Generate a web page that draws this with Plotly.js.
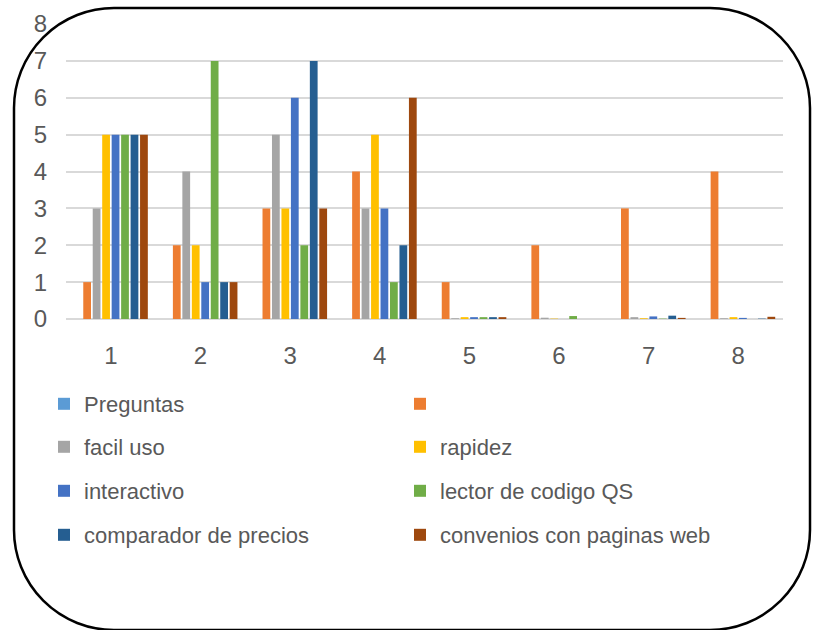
<!DOCTYPE html>
<html>
<head>
<meta charset="utf-8">
<script src="https://cdn.plot.ly/plotly-3.0.1.min.js"></script>
<style>
  html, body { margin: 0; padding: 0; background: #fff; }
  #wrap { position: relative; width: 813px; height: 630px; overflow: hidden; }
  #chart { width: 813px; height: 630px; }
  #frame { position: absolute; left: 0; top: 0; pointer-events: none; }
</style>
</head>
<body>
<div id="wrap">
  <div id="chart"></div>
  <svg id="frame" width="813" height="630">
    <rect x="14" y="8" width="796" height="622" rx="100" ry="100" fill="none" stroke="#000" stroke-width="2.5"></rect>
  </svg>
</div>
<script>
const categories = [1, 2, 3, 4, 5, 6, 7, 8];
const tickLabels = ['1', '2', '3', '4', '5', '6', '7', '8'];

const seriesNames = ['Preguntas', ' ', 'facil uso', 'rapidez', 'interactivo',
  'lector de codigo QS', 'comparador de precios', 'convenios con paginas web'];

const preguntas  = [0, 0, 0, 0, 0, 0, 0, 0];
const sinNombre  = [1, 2, 3, 4, 1, 2, 3, 4];
const facilUso   = [3, 4, 5, 3, 0.02, 0.035, 0.05, 0.02];
const rapidez    = [5, 2, 3, 5, 0.05, 0.01, 0.02, 0.05];
const interactivo = [5, 1, 6, 3, 0.05, 0, 0.07, 0.03];
const lectorQS   = [5, 7, 2, 1, 0.05, 0.08, 0.01, 0];
const comparador = [5, 1, 7, 2, 0.05, 0, 0.09, 0.01];
const convenios  = [5, 1, 3, 6, 0.05, 0, 0.03, 0.06];

const seriesValues = [preguntas, sinNombre, facilUso, rapidez, interactivo, lectorQS, comparador, convenios];
const colors = ['#5B9BD5', '#ED7D31', '#A5A5A5', '#FFC000', '#4472C4', '#70AD47', '#255E91', '#9E480E'];

const FONT = '"Liberation Sans", Arial, sans-serif';
const TXT = '#595959';

const plotTop = 24, plotBottom = 319, plotLeft = 66, plotRight = 783;
const H = 630, W = 813;
const plotH = plotBottom - plotTop;
const rowCenters = [404, 447, 491, 535];
const legendNames = ['legend', 'legend2', 'legend3', 'legend4'];

const traces = seriesNames.map((name, i) => ({
  type: 'bar',
  name: name,
  x: categories,
  y: seriesValues[i],
  marker: { color: colors[i] },
  legend: legendNames[Math.floor(i / 2)],
  hoverinfo: 'x+y+name'
}));

function legendAt(ypx) {
  return {
    orientation: 'h',
    x: (44 - plotLeft) / (plotRight - plotLeft),
    xanchor: 'left',
    y: (plotBottom - ypx) / plotH,
    yanchor: 'middle',
    entrywidth: 311,
    entrywidthmode: 'pixels',
    font: { family: FONT, size: 22, color: TXT },
    bgcolor: 'rgba(0,0,0,0)',
    traceorder: 'normal'
  };
}

const layout = {
  width: W,
  height: H,
  margin: { l: plotLeft, r: W - plotRight, t: plotTop, b: H - plotBottom, pad: 0 },
  paper_bgcolor: '#ffffff',
  plot_bgcolor: '#ffffff',
  barmode: 'group',
  bargap: 0.155,
  bargroupgap: 0.18,
  font: { family: FONT, color: TXT },
  xaxis: {
    range: [0.5, 8.5],
    tickvals: categories,
    ticktext: tickLabels,
    showgrid: false,
    zeroline: false,
    showline: false,
    ticks: '',
    ticklabelstandoff: 20,
    tickfont: { family: FONT, size: 24, color: TXT },
    fixedrange: true
  },
  yaxis: {
    range: [0, 8],
    dtick: 1,
    tick0: 0,
    showgrid: true,
    gridcolor: '#D9D9D9',
    gridwidth: 2,
    zeroline: true,
    zerolinecolor: '#D9D9D9',
    zerolinewidth: 2,
    showline: false,
    ticks: '',
    ticklabelstandoff: 18,
    tickfont: { family: FONT, size: 24, color: TXT },
    fixedrange: true
  },
  showlegend: true
};
legendNames.forEach((ln, r) => { layout[ln] = legendAt(rowCenters[r]); });

Plotly.newPlot('chart', traces, layout, { displayModeBar: false, staticPlot: true });
</script>
</body>
</html>
